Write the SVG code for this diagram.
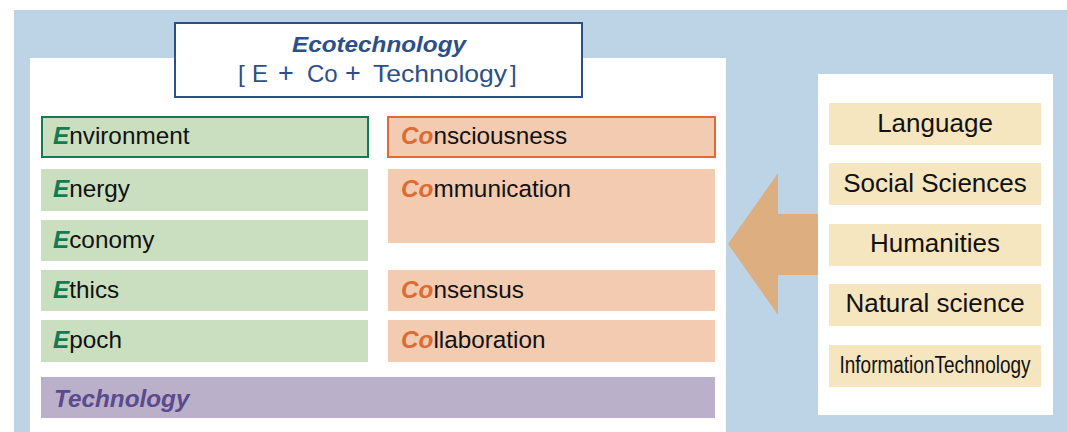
<svg xmlns="http://www.w3.org/2000/svg" width="1067" height="432" viewBox="0 0 1067 432">
<style>
.t{font-family:"Liberation Sans",Arial,sans-serif;font-size:24.3px;fill:#111}
.g{fill:#cadfc0}
.o{fill:#f2cbb0}
.b{fill:#f5e6c0}
.ge{fill:#137a52;font-weight:bold;font-style:italic}
.oc{fill:#dc6b35;font-weight:bold;font-style:italic}
.r{font-family:"Liberation Sans",Arial,sans-serif;font-size:26px;fill:#111;text-anchor:middle}
</style>
<rect x="14" y="10" width="1053" height="422" fill="#bcd4e6"/>
<rect x="30" y="58" width="696" height="374" fill="#fff"/>
<g id="title">
<rect x="175" y="23" width="407" height="74" fill="#fff" stroke="#2d4f87" stroke-width="2"/>
<text x="379" y="52" text-anchor="middle" font-family="Liberation Sans, Arial, sans-serif" font-size="22" font-weight="bold" font-style="italic" fill="#2d4f87" textLength="174" lengthAdjust="spacingAndGlyphs">Ecotechnology</text>
<text y="82" font-family="Liberation Sans, Arial, sans-serif" font-size="24" fill="#2d4f87"><tspan x="238">[</tspan><tspan x="252">E</tspan><tspan x="278" font-size="27">+</tspan><tspan x="307">Co</tspan><tspan x="345" font-size="27">+</tspan><tspan x="373" textLength="134" lengthAdjust="spacingAndGlyphs">Technology</tspan><tspan x="510">]</tspan></text>
</g>
<g id="environment"><rect class="g" x="42" y="117" width="326" height="40" stroke="#137a52" stroke-width="2"/><text class="t" x="53" y="144"><tspan class="ge">E</tspan>nvironment</text></g>
<g id="energy"><rect class="g" x="41" y="169" width="327" height="42"/><text class="t" x="53" y="197"><tspan class="ge">E</tspan>nergy</text></g>
<g id="economy"><rect class="g" x="41" y="220" width="327" height="41"/><text class="t" x="53" y="248"><tspan class="ge">E</tspan>conomy</text></g>
<g id="ethics"><rect class="g" x="41" y="270" width="327" height="41"/><text class="t" x="53" y="298"><tspan class="ge">E</tspan>thics</text></g>
<g id="epoch"><rect class="g" x="41" y="320" width="327" height="42"/><text class="t" x="53" y="348"><tspan class="ge">E</tspan>poch</text></g>
<g id="consciousness"><rect class="o" x="388" y="117" width="327" height="40" stroke="#dc6b35" stroke-width="2"/><text class="t" x="401" y="144"><tspan class="oc">Co</tspan>nsciousness</text></g>
<g id="communication"><rect class="o" x="388" y="169" width="327" height="74"/><text class="t" x="401" y="197"><tspan class="oc">Co</tspan>mmunication</text></g>
<g id="consensus"><rect class="o" x="388" y="270" width="327" height="41"/><text class="t" x="401" y="298"><tspan class="oc">Co</tspan>nsensus</text></g>
<g id="collaboration"><rect class="o" x="388" y="320" width="327" height="42"/><text class="t" x="401" y="348"><tspan class="oc">Co</tspan>llaboration</text></g>
<g id="technology"><rect x="41" y="377" width="674" height="41" fill="#bab0ca"/><text class="t" x="54" y="407" font-weight="bold" font-style="italic" style="fill:#5b4a8e">Technology</text></g>
<g id="connectors">
<polygon points="728,244 778,173 778,214 820,214 820,275 778,275 778,315" fill="#dcae80"/>
</g>
<rect x="818" y="74" width="235" height="341" fill="#fff"/>
<g id="language"><rect class="b" x="829" y="103" width="212" height="42"/><text class="r" x="935" y="132">Language</text></g>
<g id="social-sciences"><rect class="b" x="829" y="163" width="212" height="42"/><text class="r" x="935" y="192">Social Sciences</text></g>
<g id="humanities"><rect class="b" x="829" y="224" width="212" height="42"/><text class="r" x="935" y="252">Humanities</text></g>
<g id="natural-science"><rect class="b" x="829" y="284" width="212" height="42"/><text class="r" x="935" y="312">Natural science</text></g>
<g id="information-technology"><rect class="b" x="829" y="345" width="212" height="42"/><text class="r" transform="translate(935,373) scale(1,1.25)" x="0" y="0" style="font-size:19px">InformationTechnology</text></g>
</svg>
